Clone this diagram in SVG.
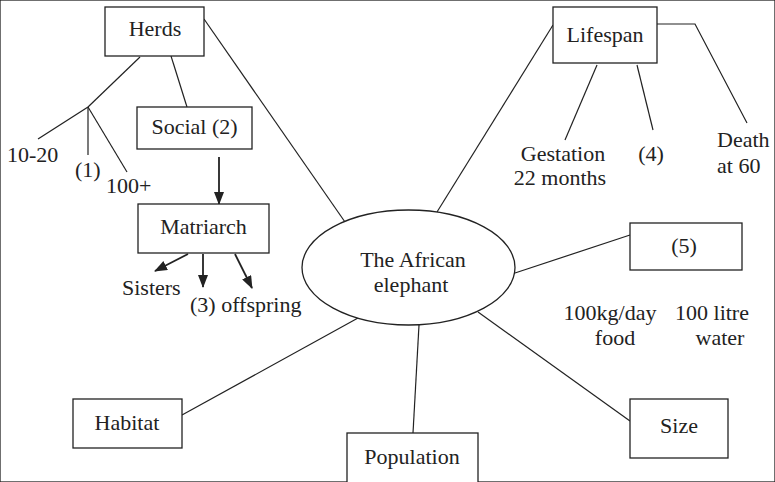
<svg xmlns="http://www.w3.org/2000/svg" width="775" height="482" viewBox="0 0 775 482">
<style>
text{font-size:22px;fill:#222}
.c{text-anchor:middle}
rect,ellipse{fill:#fff;stroke:#222;stroke-width:1.3}
#connectors line,#connectors polyline{stroke:#222;stroke-width:1.2;fill:none}
#connectors line.arr{stroke-width:1.8;marker-end:url(#ah)}
</style>
<defs>
<marker id="ah" markerWidth="13" markerHeight="10" refX="12" refY="5" orient="auto" markerUnits="userSpaceOnUse">
<path d="M0,0 L13,5 L0,10 Z" fill="#222"/>
</marker>
</defs>
<rect width="775" height="482" fill="#fff" stroke="none"/>
<g id="connectors">
<line x1="204" y1="19" x2="345" y2="222"/>
<line x1="140" y1="57" x2="88" y2="107"/>
<line x1="88" y1="107" x2="38" y2="139"/>
<line x1="88" y1="107" x2="88" y2="155"/>
<line x1="88" y1="107" x2="127" y2="172"/>
<line x1="171" y1="56" x2="187" y2="107"/>
<line class="arr" x1="219" y1="157" x2="219" y2="204"/>
<line class="arr" x1="188" y1="254" x2="155" y2="271"/>
<line class="arr" x1="203" y1="254" x2="203" y2="287"/>
<line class="arr" x1="235" y1="254" x2="252" y2="288"/>
<line x1="553" y1="25" x2="437" y2="212"/>
<polyline points="657,24 695,24 747,123"/>
<line x1="597" y1="65" x2="565" y2="140"/>
<line x1="637" y1="65" x2="653" y2="130"/>
<line x1="515" y1="273" x2="630" y2="235"/>
<line x1="478" y1="312" x2="630" y2="421"/>
<line x1="419" y1="325" x2="413" y2="433"/>
<line x1="182" y1="415" x2="358" y2="318"/>
</g>
<g font-family="'Liberation Serif', 'DejaVu Serif', 'Times New Roman', serif">
<g id="herds"><rect x="105" y="7" width="99" height="49"/><text class="c" x="155" y="36">Herds</text></g>
<g id="herd-sizes">
<text x="7" y="162">10-20</text>
<text x="75" y="177">(1)</text>
<text x="106" y="193">100+</text>
</g>
<g id="social"><rect x="137" y="107" width="115" height="42"/><text class="c" x="194.5" y="134">Social (2)</text></g>
<g id="matriarch"><rect x="138" y="204" width="131" height="49"/><text class="c" x="203.5" y="234">Matriarch</text></g>
<g id="matriarch-children">
<text x="122" y="295">Sisters</text>
<text x="190" y="312">(3) offspring</text>
</g>
<g id="center"><ellipse cx="408.5" cy="267.5" rx="106.5" ry="57.5"/>
<text class="c" x="413" y="267">The African</text>
<text class="c" x="411" y="292">elephant</text></g>
<g id="lifespan"><rect x="553" y="7" width="104" height="56"/><text class="c" x="605" y="42">Lifespan</text></g>
<g id="lifespan-children">
<text class="c" x="563" y="161">Gestation</text>
<text class="c" x="560" y="185">22 months</text>
<text class="c" x="651" y="161">(4)</text>
<text x="717" y="147">Death</text>
<text x="717" y="173">at 60</text>
</g>
<g id="n5"><rect x="630" y="223" width="112" height="47"/><text class="c" x="684" y="253">(5)</text></g>
<g id="diet">
<text class="c" x="610" y="320">100kg/day</text>
<text class="c" x="615" y="345">food</text>
<text class="c" x="712" y="320">100 litre</text>
<text class="c" x="720" y="345">water</text>
</g>
<g id="size"><rect x="630" y="399" width="98" height="59"/><text class="c" x="679" y="433">Size</text></g>
<g id="population"><rect x="347" y="433" width="131" height="60"/><text class="c" x="412" y="464">Population</text></g>
<g id="habitat"><rect x="73" y="399" width="109" height="49"/><text class="c" x="127" y="430">Habitat</text></g>
</g>
</svg>
